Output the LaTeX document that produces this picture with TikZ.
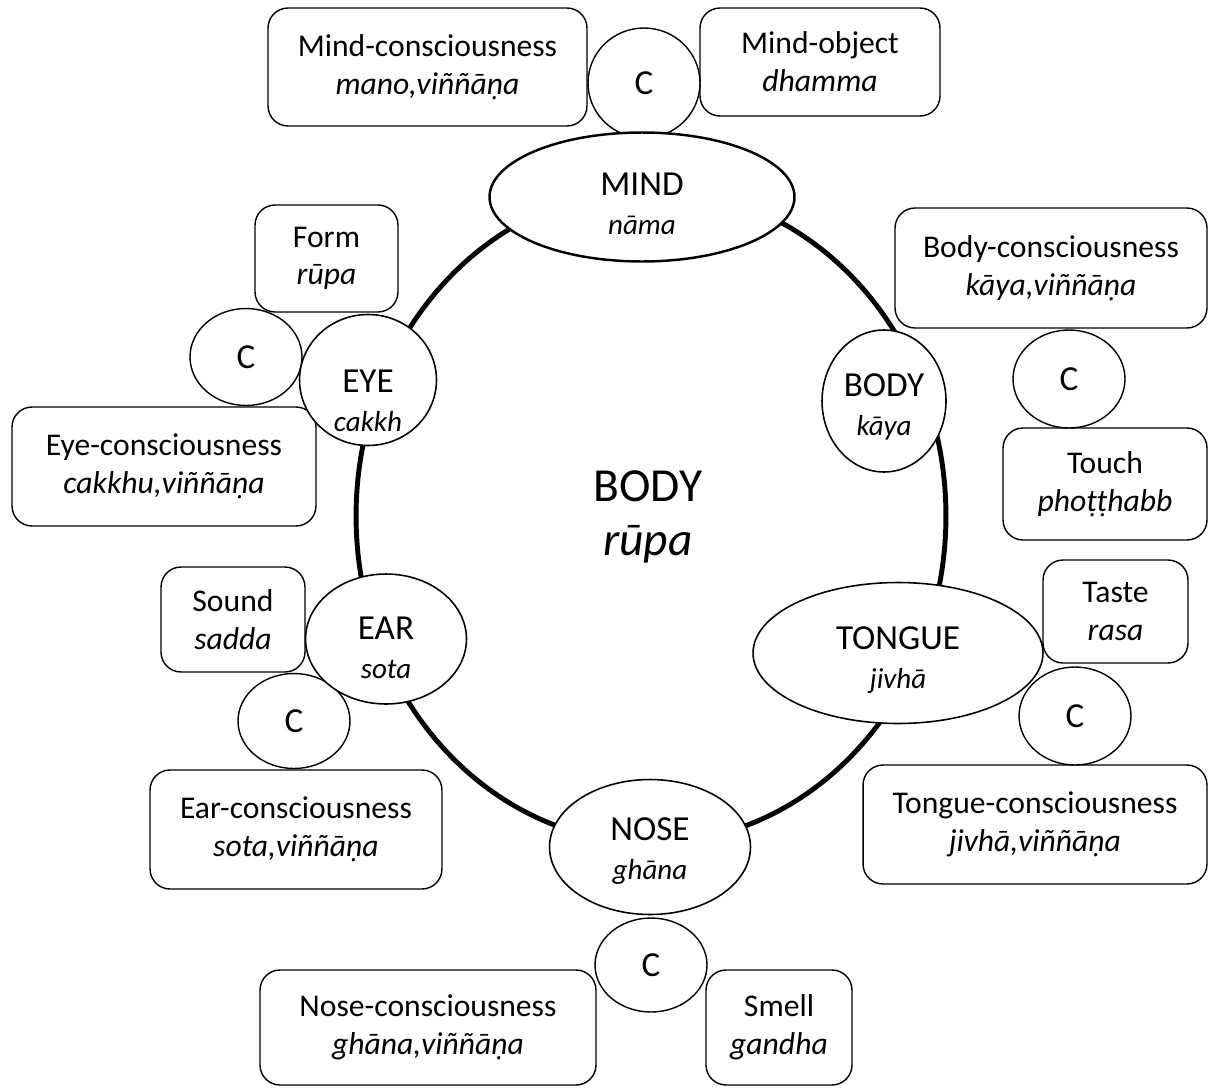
\documentclass[tikz,border=0pt]{standalone}
\usepackage{fontspec}
\setmainfont{Carlito}
\usetikzlibrary{shapes.geometric}

\begin{document}
\begin{tikzpicture}[x=0.02cm,y=-0.02cm,
  box/.style={draw, rounded corners=0.4cm, fill=white, line width=0.8pt, align=center,
    font=\fontsize{18}{21.5}\selectfont},
  sense/.style={draw, ellipse, fill=white, inner sep=0pt, line width=0.9pt,
    font=\fontsize{20}{21}\selectfont},
  cbubble/.style={draw, ellipse, fill=white, inner sep=0pt, line width=0.8pt,
    minimum width=2.24cm, font=\fontsize{20}{24}\selectfont}]
  \newcommand{\pali}[1]{{\fontsize{16.5}{20}\selectfont\itshape #1}}
  % name of a sense, its pali word, and how far the text sits low in the oval
  \newcommand{\sensetext}[3]{\raisebox{-#3}[0pt][0pt]{\begin{tabular}{@{}c@{}}#1\\[1pt]\pali{#2}\end{tabular}}}
  \useasboundingbox (0,0) rectangle (1209,1088);

  % the whole body
  \draw[line width=2.8pt] (651,516) ellipse [x radius=5.9cm, y radius=6.54cm];
  \node[align=center, font=\fontsize{27}{31}\selectfont] (rupa) at (648,517) {BODY\\\textit{rūpa}};

  % mind
  \node[box, minimum width=6.38cm, minimum height=2.36cm] (mindcon) at (427.5,67) {Mind-consciousness\\\textit{mano,viññāṇa}};
  \node[box, minimum width=4.8cm, minimum height=2.16cm] (mindobj) at (820,62) {Mind-object\\\textit{dhamma}};
  \node[cbubble, minimum height=2.2cm] (cmind) at (644,83) {C};
  \node[sense, line width=1.4pt, minimum width=6.1cm, minimum height=2.58cm] (mind) at (642,197) {\sensetext{MIND}{nāma}{0.4cm}};

  % eye
  \node[box, minimum width=2.86cm, minimum height=2.14cm] (form) at (326.5,258.5) {Form\\\textit{rūpa}};
  \node[box, minimum width=6.08cm, minimum height=2.38cm] (eyecon) at (164,466.5) {Eye-consciousness\\\textit{cakkhu,viññāṇa}};
  \node[cbubble, minimum height=1.94cm] (ceye) at (246,357) {C};
  \node[sense, minimum width=2.74cm, minimum height=2.62cm] (eye) at (368,380) {\sensetext{EYE}{cakkh}{0.67cm}};

  % body
  \node[box, minimum width=6.24cm, minimum height=2.4cm] (bodycon) at (1051,268) {Body-consciousness\\\textit{kāya,viññāṇa}};
  \node[box, minimum width=4.08cm, minimum height=2.24cm] (touch) at (1105,484) {Touch\\\textit{phoṭṭhabb}};
  \node[cbubble, minimum height=1.96cm] (cbody) at (1069,379) {C};
  \node[sense, minimum width=2.48cm, minimum height=2.84cm] (body) at (884,401) {\sensetext{BODY}{kāya}{0.33cm}};

  % tongue
  \node[box, minimum width=2.9cm, minimum height=2.06cm] (taste) at (1115.5,611.5) {Taste\\\textit{rasa}};
  \node[box, minimum width=6.88cm, minimum height=2.38cm] (tonguecon) at (1035,824.5) {Tongue-consciousness\\\textit{jivhā,viññāṇa}};
  \node[cbubble, minimum height=1.96cm] (ctongue) at (1075,716) {C};
  \node[sense, minimum width=5.8cm, minimum height=2.82cm] (tongue) at (898,653) {\sensetext{TONGUE}{jivhā}{0.36cm}};

  % ear
  \node[box, minimum width=2.88cm, minimum height=2.1cm] (sound) at (233,619.5) {Sound\\\textit{sadda}};
  \node[box, minimum width=5.84cm, minimum height=2.38cm] (earcon) at (296,829.5) {Ear-consciousness\\\textit{sota,viññāṇa}};
  \node[cbubble, minimum height=1.9cm] (cear) at (294,721) {C};
  \node[sense, minimum width=3.22cm, minimum height=2.6cm] (ear) at (386,639) {\sensetext{EAR}{sota}{0.43cm}};

  % nose
  \node[box, minimum width=6.72cm, minimum height=2.3cm] (nosecon) at (428,1027.5) {Nose-consciousness\\\textit{ghāna,viññāṇa}};
  \node[box, minimum width=2.92cm, minimum height=2.3cm] (smell) at (779,1027.5) {Smell\\\textit{gandha}};
  \node[cbubble, minimum height=1.88cm] (cnose) at (651,965) {C};
  \node[sense, minimum width=4.02cm, minimum height=2.7cm] (nose) at (650,847) {\sensetext{NOSE}{ghāna}{0.29cm}};
\end{tikzpicture}
\end{document}
